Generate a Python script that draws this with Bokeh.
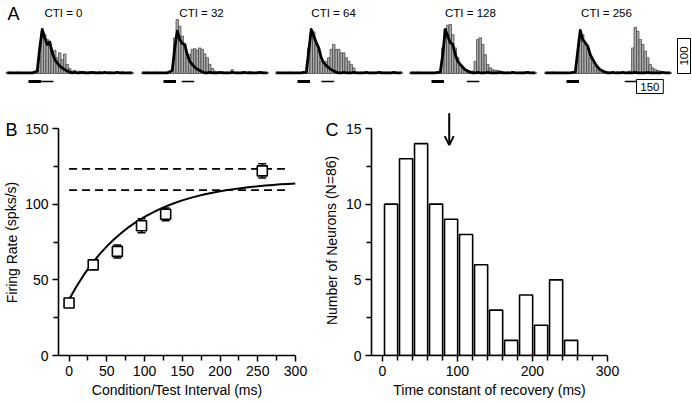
from bokeh.plotting import figure
from bokeh.layouts import row, column
from bokeh.models import Range1d, FixedTicker, Arrow, OpenHead
from bokeh.core.properties import value
from bokeh.embed import file_html
from bokeh.resources import INLINE

FONT = "Liberation Sans"

# ---------------- Panel A data (PSTHs, spk/s per 14 ms bin, bins k=-9..41) ----------------
cti_values = [0, 32, 64, 128, 256]
cti_labels = ["CTI = 0", "CTI = 32", "CTI = 64", "CTI = 128", "CTI = 256"]
bin_ms = 14
bin_k = list(range(-9, 42))
cond_dur = 70
test_dur = 70

gray_A1 = [3, 4, 3, 2, 4, 3, 3, 2, 3,
           2, 3, 3, 5, 50, 121, 111, 97, 88, 64, 66, 45, 59, 40, 56, 26, 14, 7, 9, 4, 7, 3, 6, 3,
           5, 3, 5, 3, 6, 3, 4, 3, 5, 3, 3, 4, 3, 5, 3, 3, 4, 3]
black_A1 = [2, 2, 2, 2, 2, 2, 2, 2, 2,
            2, 2, 4, 7, 73, 126, 102, 83, 90, 59, 40, 30, 21, 16, 11, 7, 4,
            2, 3, 2, 2, 3, 2, 2, 2, 3, 2, 2, 2, 2, 3, 2, 2, 2, 2, 3, 2, 2, 2, 2, 2, 2]
gray_A2 = [3, 3, 4, 3, 2, 4, 3, 3, 3,
           3, 3, 4, 11, 102, 154, 135, 107, 83, 45, 54, 69, 71, 66, 73, 69, 56, 45, 26, 14, 7, 4,
           3, 5, 3, 4, 3, 11, 3, 4, 3, 5, 3, 3, 6, 3, 3, 4, 3, 5, 3, 3]
black_A2 = [2, 2, 2, 2, 2, 2, 2, 2, 2,
            2, 2, 5, 9, 73, 121, 97, 86, 83, 54, 35, 26, 18, 12, 9, 5,
            2, 2, 3, 2, 2, 2, 3, 2, 2, 2, 2, 3, 2, 2, 2, 2, 3, 2, 2, 2, 2, 2, 3, 2, 2, 2]
gray_A3 = [4, 3, 3, 2, 3, 4, 3, 2, 3,
           3, 2, 4, 5, 73, 116, 119, 83, 64, 35, 21, 35, 45, 69, 83, 69, 69, 59, 59, 45, 35, 26, 16,
           4, 3, 4, 3, 5, 3, 3, 4, 3, 3, 5, 3, 4, 3, 3, 5, 3, 3, 4]
black_A3 = [2, 2, 2, 2, 2, 2, 2, 2, 2,
            2, 2, 3, 4, 64, 126, 107, 88, 73, 45, 30, 23, 16, 11, 7, 4,
            2, 2, 3, 2, 2, 2, 3, 2, 2, 2, 2, 3, 2, 2, 2, 2, 3, 2, 2, 2, 2, 2, 3, 2, 2, 2]
gray_A4 = [3, 3, 2, 4, 3, 3, 2, 3, 3,
           3, 3, 3, 5, 73, 126, 138, 140, 111, 73, 45, 26, 14, 9, 5, 5, 7, 35, 97, 102, 83, 54, 26,
           16, 11, 9, 9, 7, 5, 3, 4, 3, 5, 3, 3, 4, 3, 5, 3, 3, 4, 3]
black_A4 = [2, 2, 2, 2, 2, 2, 2, 2, 2,
            2, 2, 3, 4, 54, 126, 107, 88, 83, 54, 35, 26, 18, 11, 7, 4,
            2, 2, 3, 2, 2, 2, 3, 2, 2, 2, 2, 3, 2, 2, 2, 2, 3, 2, 2, 2, 2, 2, 3, 2, 2, 2]
gray_A5 = [3, 2, 3, 4, 3, 3, 2, 3, 3,
           3, 3, 3, 4, 54, 107, 111, 83, 69, 45, 30, 21, 11, 5, 4, 3, 5, 3, 4, 3, 5, 3, 4, 3,
           5, 7, 73, 132, 121, 97, 83, 64, 45, 26, 16, 11, 9, 7, 4, 3, 4, 3]
black_A5 = [2, 2, 2, 2, 2, 2, 2, 2, 2,
            2, 2, 3, 4, 64, 123, 97, 88, 78, 54, 40, 28, 18, 11, 7, 4,
            2, 2, 3, 2, 2, 2, 3, 2, 2, 2, 2, 3, 2, 2, 2, 2, 3, 2, 2, 2, 2, 2, 3, 2, 2, 2]
gray_all = [gray_A1, gray_A2, gray_A3, gray_A4, gray_A5]
black_all = [black_A1, black_A2, black_A3, black_A4, black_A5]

scale_ms = 150
scale_rate = 100

# ---------------- Panel B data ----------------
cti_ms = [0, 32, 64, 96, 128, 256]
rate_mean = [34.7, 59.9, 68.8, 85.7, 93.3, 122.0]
rate_sem = [2.5, 2.5, 4.3, 4.6, 4.2, 4.7]
fit_x = [0, 10, 20, 30, 40, 50, 60, 70, 80, 90, 100, 110, 120, 130, 140, 150, 160, 170, 180,
         190, 200, 210, 220, 230, 240, 250, 260, 270, 280, 290, 300]
fit_y = [37.0, 45.8, 53.6, 60.5, 66.7, 72.1, 77.0, 81.3, 85.2, 88.6, 91.6, 94.3, 96.7, 98.9,
         100.8, 102.5, 104.0, 105.3, 106.5, 107.5, 108.5, 109.3, 110.1, 110.7, 111.3, 111.8,
         112.3, 112.7, 113.1, 113.4, 113.7]
ref_levels = [123.3, 109.3]
ref_span = [0, 286]

# ---------------- Panel C data ----------------
bin_left = [0, 20, 40, 60, 80, 100, 120, 140, 160, 180, 200, 220, 240]
counts = [10, 13, 14, 10, 9, 8, 6, 3, 1, 4, 2, 5, 1]
median_tau = 89

# ---------------- Panel A figures ----------------
px_ms = 5.6      # ms per pixel
a_widths = [141, 134, 134, 135, 148]
a_starts = [-156.8, -123.2, -123.2, -123.2, -123.2]
title_x = [196, 213, 202, 218, 224]
A_H = 98
y_lo, y_hi = -71.43, 208.57

figsA = []
for i in range(5):
    w = a_widths[i]
    x0 = a_starts[i]
    p = figure(width=w, height=A_H, output_backend="svg", toolbar_location=None,
               x_range=Range1d(x0, x0 + w * px_ms), y_range=Range1d(y_lo, y_hi),
               x_axis_type=None, y_axis_type=None, min_border=0)
    p.outline_line_color = None
    p.xgrid.visible = False
    p.ygrid.visible = False
    lefts = [k * bin_ms for k in bin_k]
    rights = [k * bin_ms + bin_ms for k in bin_k]
    centers = [k * bin_ms + bin_ms / 2 for k in bin_k]
    p.quad(left=lefts, right=rights, bottom=0, top=gray_all[i],
           fill_color="#aaaaaa", line_color="#404040", line_width=0.7)
    p.line(x=centers, y=black_all[i], line_width=2.8, color="black", line_join="round")
    # stimulus bars
    p.segment(x0=[0], y0=[-22.9], x1=[cond_dur], y1=[-22.9], line_width=3.2, color="black")
    t0 = cond_dur + cti_values[i]
    p.segment(x0=[t0], y0=[-22.9], x1=[t0 + test_dur], y1=[-22.9], line_width=1.3, color="black")
    p.text(x=[title_x[i]], y=[172.9], text=[cti_labels[i]], text_font=value(FONT),
           text_font_size="11.5px", text_align="center", text_baseline="middle", color="black")
    if i == 0:
        p.text(x=[-117.6], y=[168.6], text=["A"], text_font=value(FONT), text_font_size="18px",
               text_align="left", text_baseline="middle", color="black")
    if i == 4:
        # horizontal scale (150 ms)
        sx0 = 392
        p.quad(left=[sx0], right=[sx0 + scale_ms], top=[-17.1], bottom=[-57.1],
               fill_color=None, line_color="black", line_width=1)
        p.text(x=[sx0 + scale_ms / 2], y=[-37.5], text=[str(scale_ms)], text_font=value(FONT),
               text_font_size="11.5px", text_align="center", text_baseline="middle", color="black")
        # vertical scale (100 spk/s)
        vx0 = 621.6
        p.quad(left=[vx0], right=[vx0 + 72.8], top=[scale_rate], bottom=[0],
               fill_color=None, line_color="black", line_width=1)
        p.text(x=[vx0 + 36.4], y=[scale_rate / 2], text=[str(scale_rate)], angle=1.5708,
               text_font=value(FONT), text_font_size="11.5px", text_align="center",
               text_baseline="middle", color="black")
    figsA.append(p)

# ---------------- Lower row: all figures share the same top/bottom borders ----------------
BC_H = 302
TOP = 7        # frame from page y 105 ...
BOT = 45       # ... to page y 355
FRAME_TOP_PAGE = 98 + TOP
FRAME_BOT_PAGE = 98 + BC_H - BOT


def style_axes(p):
    for ax in (p.xaxis[0], p.yaxis[0]):
        ax.axis_line_width = 1.6
        ax.axis_line_color = "black"
        ax.major_tick_line_width = 1.5
        ax.minor_tick_line_width = 1.5
        ax.major_tick_line_color = "black"
        ax.minor_tick_line_color = "black"
        ax.major_tick_out = 6
        ax.major_tick_in = 0
        ax.minor_tick_out = 5
        ax.minor_tick_in = 0
        ax.major_label_text_font = FONT
        ax.major_label_text_font_size = "14px"
        ax.major_label_text_color = "black"
        ax.axis_label_text_font = FONT
        ax.axis_label_text_font_size = "14px"
        ax.axis_label_text_font_style = "normal"
        ax.axis_label_text_color = "black"
        ax.major_label_standoff = 4
        ax.axis_label_standoff = 3
    p.outline_line_color = None
    p.xgrid.visible = False
    p.ygrid.visible = False


def label_strip(width, letter, ylabel, ylabel_center_page):
    # narrow strip holding the panel letter and the rotated y-axis title (page-pixel coordinates)
    s = figure(width=width, height=BC_H, output_backend="svg", toolbar_location=None,
               x_range=Range1d(0, width), y_range=Range1d(FRAME_BOT_PAGE, FRAME_TOP_PAGE),
               x_axis_type=None, y_axis_type=None,
               min_border_left=0, min_border_right=0, min_border_top=TOP, min_border_bottom=BOT)
    s.outline_line_color = None
    s.xgrid.visible = False
    s.ygrid.visible = False
    s.text(x=[5], y=[129], text=[letter], text_font=value(FONT), text_font_size="18px",
           text_align="left", text_baseline="middle", color="black")
    s.text(x=[11], y=[ylabel_center_page], text=[ylabel], angle=1.5708, text_font=value(FONT),
           text_font_size="14px", text_align="center", text_baseline="middle", color="black")
    return s


# ---------------- Panel B ----------------
sB = label_strip(22, "B", "Firing Rate (spks/s)", 242)
pB = figure(width=298, height=BC_H, output_backend="svg", toolbar_location=None,
            x_range=Range1d(-14, 300), y_range=Range1d(0, 165.2),
            min_border_left=35, min_border_right=25, min_border_top=TOP, min_border_bottom=BOT,
            x_axis_label="Condition/Test Interval (ms)")
style_axes(pB)
pB.xaxis[0].ticker = FixedTicker(ticks=[0, 50, 100, 150, 200, 250, 300],
                                 minor_ticks=[25, 75, 125, 175, 225, 275])
pB.yaxis[0].ticker = FixedTicker(ticks=[0, 50, 100, 150], minor_ticks=[25, 75, 125])
pB.yaxis[0].bounds = (0, 150)
for lv in ref_levels:
    pB.line(x=ref_span, y=[lv, lv], line_dash="8 5", line_width=1.6, color="black")
pB.line(x=fit_x, y=fit_y, line_width=2, color="black")
lo = [m - s for m, s in zip(rate_mean, rate_sem)]
hi = [m + s for m, s in zip(rate_mean, rate_sem)]
pB.segment(x0=cti_ms, y0=lo, x1=cti_ms, y1=hi, line_width=1.5, color="black")
pB.scatter(x=cti_ms + cti_ms, y=lo + hi, marker="dash", size=8, line_width=1.5, color="black")
pB.scatter(x=cti_ms, y=rate_mean, marker="square", size=10, fill_color="white",
           line_color="black", line_width=1.6)

# ---------------- Panel C ----------------
sC = label_strip(22, "C", "Number of Neurons (N=86)", 240)
pC = figure(width=350, height=BC_H, output_backend="svg", toolbar_location=None,
            x_range=Range1d(-14.6, 300), y_range=Range1d(0, 16.52),
            min_border_left=28, min_border_right=85, min_border_top=TOP, min_border_bottom=BOT,
            x_axis_label="Time constant of recovery (ms)")
style_axes(pC)
pC.xaxis[0].ticker = FixedTicker(ticks=[0, 100, 200, 300],
                                 minor_ticks=[20, 40, 60, 80, 120, 140, 160, 180, 220, 240, 260, 280])
pC.yaxis[0].ticker = FixedTicker(ticks=[0, 5, 10, 15], minor_ticks=[2.5, 7.5, 12.5])
pC.yaxis[0].bounds = (0, 15)
pC.vbar(x=[b + 11.5 for b in bin_left], top=counts, bottom=0, width=17.5,
        fill_color="white", line_color="black", line_width=1.6)
pC.add_layout(Arrow(end=OpenHead(size=9, line_width=2, line_color="black"),
                    x_start=median_tau, y_start=16.0, x_end=median_tau, y_end=13.9,
                    line_width=2, line_color="black"))

layout = column(row(*figsA, spacing=0), row(sB, pB, sC, pC, spacing=0), spacing=0)
open("out.html", "w").write(file_html(layout, INLINE))
